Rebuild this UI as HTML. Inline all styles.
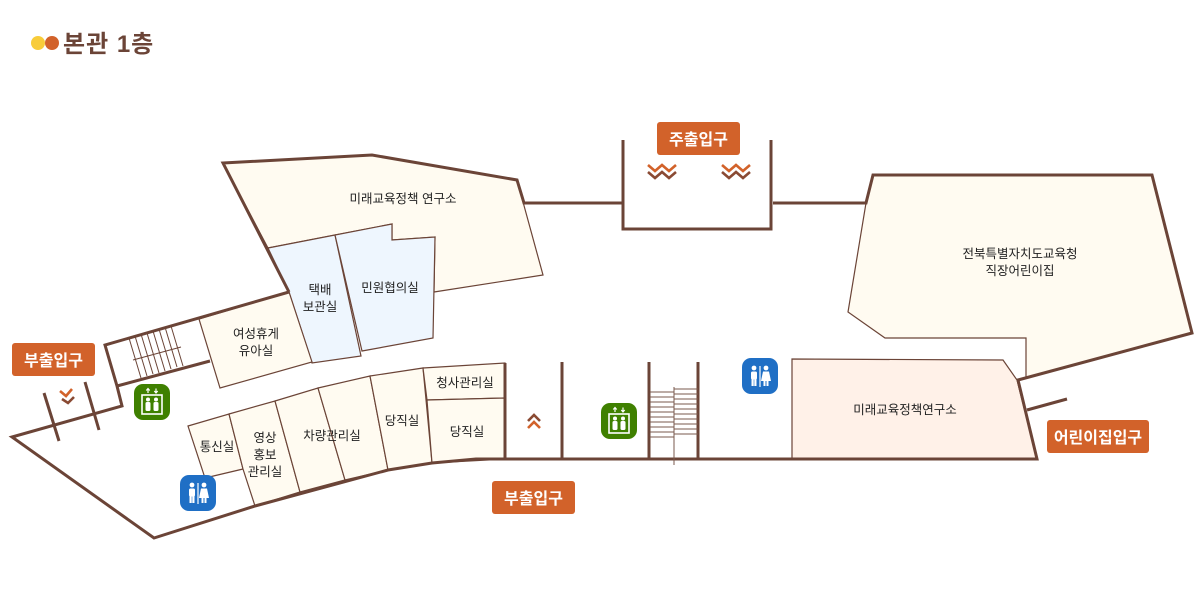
<!DOCTYPE html>
<html><head><meta charset="utf-8"><style>
html,body{margin:0;padding:0;background:#fff;}
svg{display:block;}
text{font-family:"Liberation Sans","Noto Sans CJK KR",sans-serif;}
.rl{font-size:12.5px;fill:#222;text-anchor:middle;}
.lb{font-size:16px;font-weight:bold;fill:#fff;text-anchor:middle;}
</style></head><body>
<svg width="1200" height="600" viewBox="0 0 1200 600" xmlns="http://www.w3.org/2000/svg">
<defs>
<g id="elev">
<rect x="0" y="0" width="36" height="36" rx="9" fill="#3f8000"/>
<rect x="8" y="11" width="20" height="19" fill="none" stroke="#fff" stroke-width="1.6"/>
<circle cx="14" cy="15.5" r="2" fill="#fff"/><rect x="11.5" y="18" width="5" height="9" rx="1.5" fill="#fff"/>
<circle cx="22" cy="15.5" r="2" fill="#fff"/><rect x="19.5" y="18" width="5" height="9" rx="1.5" fill="#fff"/>
<path d="M14 9V5M12.3 6.5L14 4.5L15.7 6.5M22 4.5V8.5M20.3 7L22 9L23.7 7" stroke="#fff" stroke-width="1.2" fill="none"/>
</g>
<g id="wc">
<rect x="0" y="0" width="36" height="36" rx="9" fill="#1f6fc5"/>
<circle cx="12" cy="10" r="2.4" fill="#fff"/><rect x="9" y="13.5" width="6" height="8" rx="1.5" fill="#fff"/>
<rect x="9.5" y="20" width="2.2" height="8" fill="#fff"/><rect x="12.3" y="20" width="2.2" height="8" fill="#fff"/>
<line x1="18" y1="8" x2="18" y2="29" stroke="#fff" stroke-width="1.2"/>
<circle cx="24" cy="10" r="2.4" fill="#fff"/><path d="M21 13.5H27L29 23H19Z" fill="#fff"/>
<rect x="21.5" y="22" width="2" height="6" fill="#fff"/><rect x="24.5" y="22" width="2" height="6" fill="#fff"/>
</g>
</defs>

<!-- title -->
<circle cx="38" cy="43" r="7" fill="#f8cc3a"/>
<circle cx="52" cy="43" r="7" fill="#d2622a"/>
<text x="63" y="52" font-size="24" font-weight="bold" fill="#6b4437" letter-spacing="1" style="font-family:'Liberation Sans','Noto Sans CJK KR',sans-serif">본관 1층</text>

<g stroke="#6b4437" stroke-width="1.2" stroke-linejoin="miter">
<polygon points="223,163 372,155 517,180 543,275 434,292 435,237 392,240 392,224 268,248" fill="#fffbf1"/>
<polygon points="268,248 335,235 361,356 312,363 289,292" fill="#eef6fe"/>
<polygon points="335,235 392,224 392,240 435,237 433,338 362,351" fill="#eef6fe"/>
<polygon points="199,319 289,292 312,362 220,388" fill="#fffbf1"/>
<polygon points="873,175 1152,175 1192,333 1018,380 1026,378 1026,338 885,338 848,312 866,203" fill="#fffbf1"/>
<polygon points="792,359 1003,360 1017,380 1037,459 792,459" fill="#fff1e8"/>
<polygon points="188,426 229,414 243,469 205,478" fill="#fffbf1"/>
<polygon points="229,414 275,401 300,492 255,506 243,469" fill="#fffbf1"/>
<polygon points="275,401 318,388 345,480 300,492" fill="#fffbf1"/>
<polygon points="318,388 370,376 388,470 345,480" fill="#fffbf1"/>
<polygon points="370,376 423,368 432,463 388,470" fill="#fffbf1"/>
<polygon points="423,368 505,363 505,398 427,400" fill="#fffbf1"/>
<polygon points="427,400 505,398 505,459 432,463" fill="#fffbf1"/>
</g>

<g stroke="#6b4437" stroke-width="3" fill="none" stroke-linejoin="miter">
<polyline points="289,292 223,163 372,155 517,180 524,203 623,203"/>
<polyline points="623,140 623,229 771,229 771,140"/>
<polyline points="773,203 866,203 873,175 1152,175 1192,333 1018,380 1037,459 476,459 432,463 388,470 255,506 154,538 12,437 122,406 117,386 105,345 289,292"/>
<line x1="117" y1="386" x2="210" y2="361"/>
<line x1="1027" y1="410" x2="1067" y2="399"/>
<line x1="505" y1="363" x2="505" y2="459"/>
<line x1="562" y1="362" x2="562" y2="459"/>
<line x1="649" y1="362" x2="649" y2="459"/>
<line x1="698" y1="362" x2="698" y2="459"/>
<line x1="44" y1="393" x2="59" y2="441"/>
<line x1="85" y1="382" x2="99" y2="430"/>
</g>

<!-- stairs left -->
<g stroke="#6b4437" stroke-width="1">
<line x1="129" y1="338" x2="141" y2="378"/>
<line x1="135" y1="336" x2="147" y2="376"/>
<line x1="141" y1="334" x2="153" y2="374"/>
<line x1="147" y1="333" x2="159" y2="373"/>
<line x1="153" y1="331" x2="165" y2="371"/>
<line x1="159" y1="329" x2="171" y2="369"/>
<line x1="165" y1="327" x2="177" y2="367"/>
<line x1="171" y1="326" x2="183" y2="366"/>
<line x1="133" y1="360" x2="181" y2="347"/>
</g>
<g stroke="#7a5a4e" stroke-width="1">
<line x1="674" y1="387" x2="674" y2="465"/>
<line x1="650" y1="392" x2="674" y2="392"/><line x1="650" y1="397" x2="674" y2="397"/>
<line x1="650" y1="402" x2="674" y2="402"/><line x1="650" y1="407" x2="674" y2="407"/>
<line x1="650" y1="412" x2="674" y2="412"/><line x1="650" y1="417" x2="674" y2="417"/>
<line x1="650" y1="422" x2="674" y2="422"/><line x1="650" y1="427" x2="674" y2="427"/>
<line x1="650" y1="432" x2="674" y2="432"/><line x1="650" y1="437" x2="674" y2="437"/>
<line x1="674" y1="389" x2="698" y2="389"/><line x1="674" y1="394" x2="698" y2="394"/>
<line x1="674" y1="399" x2="698" y2="399"/><line x1="674" y1="404" x2="698" y2="404"/>
<line x1="674" y1="409" x2="698" y2="409"/><line x1="674" y1="414" x2="698" y2="414"/>
<line x1="674" y1="419" x2="698" y2="419"/><line x1="674" y1="424" x2="698" y2="424"/>
<line x1="674" y1="429" x2="698" y2="429"/><line x1="674" y1="434" x2="698" y2="434"/>
</g>

<g fill="none" stroke-width="2.6">
<polyline points="648,165 655,171 662,165 669,171 676,165" stroke="#d2622a"/>
<polyline points="648,172 655,178 662,172 669,178 676,172" stroke="#8a4a33"/>
<polyline points="722,165 729,171 736,165 743,171 750,165" stroke="#d2622a"/>
<polyline points="722,172 729,178 736,172 743,178 750,172" stroke="#8a4a33"/>
<polyline points="528,421 534,415 540,421" stroke="#8a4a33"/>
<polyline points="528,428 534,422 540,428" stroke="#d2622a"/>
<polyline points="60,391 66,396 72,389" stroke="#d2622a"/>
<polyline points="62,399 68,403 74,397" stroke="#8a4a33"/>
</g>

<use href="#elev" x="134" y="384"/>
<use href="#elev" x="601" y="403"/>
<use href="#wc" x="180" y="475"/>
<use href="#wc" x="742" y="358"/>

<rect x="12" y="343" width="83" height="33" rx="3" fill="#d2622a"/>
<text class="lb" x="53.5" y="366">부출입구</text>
<rect x="657" y="122" width="83" height="33" rx="3" fill="#d2622a"/>
<text class="lb" x="698.5" y="145">주출입구</text>
<rect x="492" y="481" width="83" height="33" rx="3" fill="#d2622a"/>
<text class="lb" x="533.5" y="504">부출입구</text>
<rect x="1047" y="420" width="102" height="33" rx="3" fill="#d2622a"/>
<text class="lb" x="1098" y="443">어린이집입구</text>

<text class="rl" x="403" y="203">미래교육정책 연구소</text>
<text class="rl" x="320" y="294">택배</text>
<text class="rl" x="320" y="311">보관실</text>
<text class="rl" x="390" y="292">민원협의실</text>
<text class="rl" x="256" y="338">여성휴게</text>
<text class="rl" x="256" y="355">유아실</text>
<text class="rl" x="1020" y="258">전북특별자치도교육청</text>
<text class="rl" x="1020" y="275">직장어린이집</text>
<text class="rl" x="905" y="414">미래교육정책연구소</text>
<text class="rl" x="465" y="387">청사관리실</text>
<text class="rl" x="467" y="436">당직실</text>
<text class="rl" x="402" y="425">당직실</text>
<text class="rl" x="332" y="440">차량관리실</text>
<text class="rl" x="265" y="442">영상</text>
<text class="rl" x="265" y="459">홍보</text>
<text class="rl" x="265" y="476">관리실</text>
<text class="rl" x="217" y="451">통신실</text>
</svg>
</body></html>
